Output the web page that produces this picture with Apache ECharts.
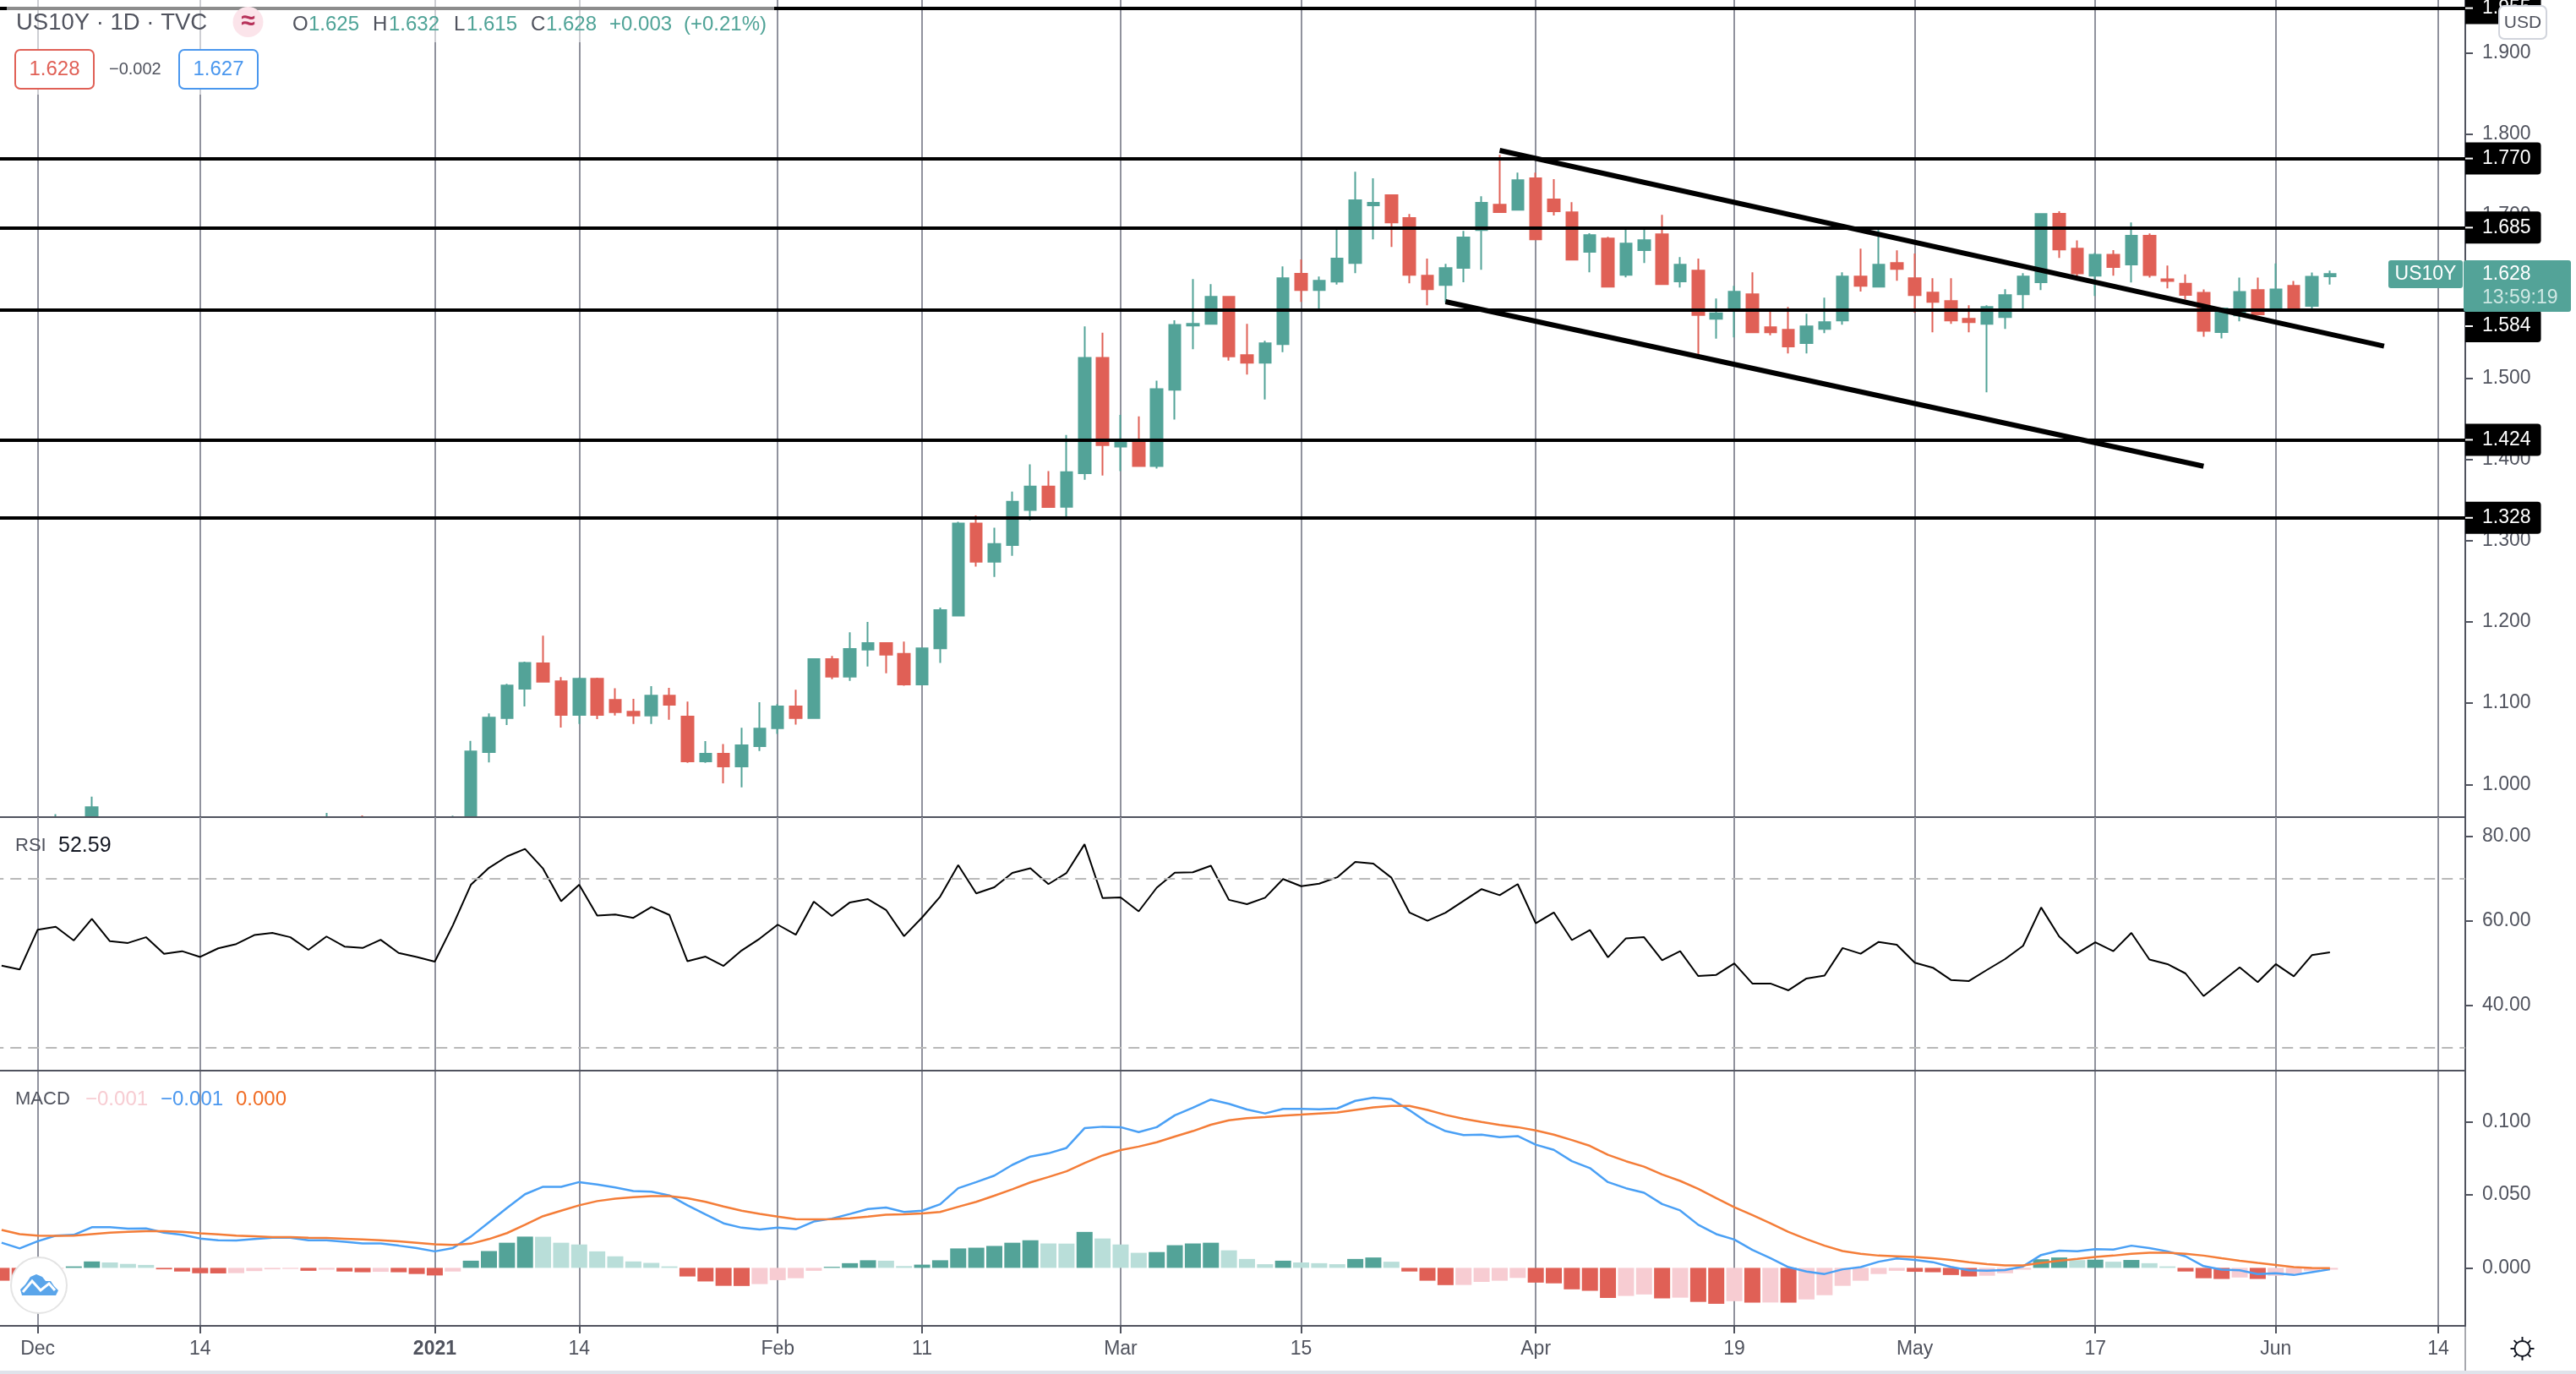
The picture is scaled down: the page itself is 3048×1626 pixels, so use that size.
<!DOCTYPE html>
<html>
<head>
<meta charset="utf-8">
<title>US10Y</title>
<script src="https://cdn.jsdelivr.net/npm/echarts@6/dist/echarts.min.js"></script>
<style>
  html, body { margin: 0; padding: 0; background: #fff; }
  #chart { width: 3048px; height: 1626px; }
</style>
</head>
<body>
<div id="chart"></div>
<script>
const dates = [
  '2020-11-27','2020-11-30','2020-12-01','2020-12-02','2020-12-03','2020-12-04','2020-12-07','2020-12-08','2020-12-09','2020-12-10',
  '2020-12-11','2020-12-14','2020-12-15','2020-12-16','2020-12-17','2020-12-18','2020-12-21','2020-12-22','2020-12-23','2020-12-24',
  '2020-12-28','2020-12-29','2020-12-30','2020-12-31','2021-01-04','2021-01-05','2021-01-06','2021-01-07','2021-01-08','2021-01-11',
  '2021-01-12','2021-01-13','2021-01-14','2021-01-15','2021-01-19','2021-01-20','2021-01-21','2021-01-22','2021-01-25','2021-01-26',
  '2021-01-27','2021-01-28','2021-01-29','2021-02-01','2021-02-02','2021-02-03','2021-02-04','2021-02-05','2021-02-08','2021-02-09',
  '2021-02-10','2021-02-11','2021-02-12','2021-02-16','2021-02-17','2021-02-18','2021-02-19','2021-02-22','2021-02-23','2021-02-24',
  '2021-02-25','2021-02-26','2021-03-01','2021-03-02','2021-03-03','2021-03-04','2021-03-05','2021-03-08','2021-03-09','2021-03-10',
  '2021-03-11','2021-03-12','2021-03-15','2021-03-16','2021-03-17','2021-03-18','2021-03-19','2021-03-22','2021-03-23','2021-03-24',
  '2021-03-25','2021-03-26','2021-03-29','2021-03-30','2021-03-31','2021-04-01','2021-04-05','2021-04-06','2021-04-07','2021-04-08',
  '2021-04-09','2021-04-12','2021-04-13','2021-04-14','2021-04-15','2021-04-16','2021-04-19','2021-04-20','2021-04-21','2021-04-22',
  '2021-04-23','2021-04-26','2021-04-27','2021-04-28','2021-04-29','2021-04-30','2021-05-03','2021-05-04','2021-05-05','2021-05-06',
  '2021-05-07','2021-05-10','2021-05-11','2021-05-12','2021-05-13','2021-05-14','2021-05-17','2021-05-18','2021-05-19','2021-05-20',
  '2021-05-21','2021-05-24','2021-05-25','2021-05-26','2021-05-27','2021-05-28','2021-06-01','2021-06-02','2021-06-03','2021-06-04',
  '2021-06-07','2021-06-08','2021-06-09','2021-06-10','2021-06-11','2021-06-14','2021-06-15'
];

const tickDates = ['2020-12-01','2020-12-14','2021-01-04','2021-01-14','2021-02-01','2021-02-11','2021-03-01','2021-03-15','2021-04-01','2021-04-19','2021-05-03','2021-05-17','2021-06-01','2021-06-14'];
const tickLabels = ['Dec','14','2021','14','Feb','11','Mar','15','Apr','19','May','17','Jun','14'];

// open, close, low, high
const candles = [
  [0.88,0.84,0.83,0.89],[0.84,0.845,0.82,0.86],[0.85,0.925,0.845,0.945],[0.925,0.94,0.915,0.9635],[0.94,0.91,0.895,0.945],
  [0.912,0.972,0.905,0.985],[0.95,0.92,0.91,0.955],[0.92,0.915,0.90,0.935],[0.915,0.94,0.91,0.955],[0.94,0.91,0.89,0.945],
  [0.91,0.90,0.88,0.92],[0.90,0.89,0.87,0.915],[0.89,0.92,0.885,0.93],[0.92,0.925,0.905,0.94],[0.925,0.93,0.915,0.945],
  [0.93,0.948,0.925,0.955],[0.948,0.935,0.89,0.955],[0.935,0.92,0.91,0.945],[0.92,0.95,0.915,0.965],[0.95,0.935,0.925,0.955],
  [0.935,0.93,0.92,0.962],[0.93,0.94,0.92,0.955],[0.94,0.93,0.92,0.955],[0.93,0.92,0.91,0.945],[0.92,0.91,0.895,0.94],
  [0.91,0.955,0.905,0.9615],[0.955,1.0407,0.95,1.0537],[1.0399,1.0821,1.0270,1.0873],[1.0817,1.1218,1.0731,1.1239],[1.1179,1.1494,1.0959,1.1511],
  [1.1489,1.1265,1.1265,1.1830],[1.1270,1.0856,1.0701,1.1321],[1.0856,1.1300,1.0744,1.1317],[1.1300,1.0856,1.0804,1.1313],[1.1041,1.0890,1.0847,1.1183],
  [1.0895,1.0847,1.0744,1.1054],[1.0847,1.1093,1.0744,1.1209],[1.1093,1.0981,1.0795,1.1188],[1.0834,1.0283,1.0265,1.1020],[1.0283,1.0377,1.0265,1.0533],
  [1.0377,1.0222,1.0015,1.0498],[1.0222,1.0481,0.9964,1.0696],[1.0472,1.0688,1.0412,1.1011],[1.0692,1.0959,1.0623,1.0989],[1.0959,1.0817,1.0735,1.1166],
  [1.0817,1.1541,1.0817,1.1541],[1.1541,1.1326,1.1296,1.1580],[1.1326,1.1666,1.1274,1.1873],[1.1658,1.1740,1.1451,1.1998],[1.1740,1.1597,1.1369,1.1740],
  [1.1606,1.1231,1.1214,1.1757],[1.1231,1.1675,1.1231,1.1675],[1.1675,1.2145,1.1494,1.2175],[1.2076,1.3209,1.2076,1.3231],[1.3209,1.2739,1.2679,1.3308],
  [1.2739,1.2959,1.2554,1.3158],[1.2946,1.3477,1.2813,1.3602],[1.3377,1.3666,1.3248,1.3938],[1.3666,1.3412,1.3408,1.3856],[1.3416,1.3843,1.3283,1.4300],
  [1.3830,1.5248,1.3748,1.5636],[1.5248,1.4175,1.3800,1.5558],[1.4157,1.4222,1.3856,1.4545],[1.4222,1.3916,1.3916,1.4528],[1.3916,1.4864,1.3886,1.4968],
  [1.4856,1.5653,1.4489,1.5709],[1.5645,1.5665,1.5354,1.6216],[1.5665,1.6000,1.5665,1.6154],[1.6000,1.5267,1.5215,1.6000],[1.5281,1.5187,1.5042,1.5665],
  [1.5187,1.5426,1.4737,1.5458],[1.5416,1.6227,1.5319,1.6372],[1.6282,1.6081,1.5936,1.6459],[1.6081,1.6196,1.5839,1.6248],[1.6185,1.6469,1.6150,1.6839],
  [1.6414,1.7187,1.6289,1.7537],[1.7124,1.7155,1.6705,1.7457],[1.7249,1.6913,1.6611,1.7249],[1.6968,1.6268,1.6164,1.7017],[1.6258,1.6092,1.5894,1.6469],
  [1.6144,1.6352,1.5925,1.6404],[1.6355,1.6729,1.6178,1.6809],[1.6819,1.7155,1.6331,1.7235],[1.7131,1.7041,1.7041,1.7745],[1.7069,1.7433,1.7069,1.7526],
  [1.7457,1.6705,1.6705,1.7526],[1.7197,1.7051,1.6999,1.7446],[1.7038,1.6455,1.6455,1.7162],[1.6553,1.6757,1.6300,1.6781],[1.6715,1.6123,1.6123,1.6736],
  [1.6268,1.6653,1.6237,1.6843],[1.6573,1.6695,1.6414,1.6840],[1.6767,1.6154,1.6154,1.7006],[1.6189,1.6393,1.6112,1.6487],[1.6320,1.5776,1.5284,1.6469],
  [1.5728,1.5797,1.5485,1.5977],[1.5838,1.6060,1.5499,1.6133],[1.6029,1.5562,1.5562,1.6300],[1.5624,1.5562,1.5527,1.5821],[1.5593,1.5388,1.5302,1.5873],
  [1.5430,1.5634,1.5302,1.5790],[1.5603,1.5686,1.5551,1.5988],[1.5707,1.6248,1.5655,1.6300],[1.6248,1.6133,1.6064,1.6591],[1.6123,1.6393,1.6123,1.6843],
  [1.6414,1.6341,1.6196,1.6570],[1.6227,1.6019,1.5804,1.6532],[1.6050,1.5936,1.5562,1.6227],[1.5946,1.5707,1.5665,1.6227],[1.5728,1.5686,1.5562,1.5894],
  [1.5665,1.5873,1.4824,1.5894],[1.5749,1.6019,1.5603,1.6092],[1.6029,1.6248,1.5839,1.6289],[1.6178,1.7017,1.6081,1.7017],[1.7021,1.6581,1.6478,1.7051],
  [1.6590,1.6288,1.6245,1.6693],[1.6258,1.6516,1.6008,1.6540],[1.6516,1.6366,1.6258,1.6572],[1.6396,1.6749,1.6176,1.6913],[1.6749,1.6266,1.6236,1.6779],
  [1.6215,1.6193,1.6103,1.6383],[1.6159,1.6021,1.5965,1.6275],[1.6047,1.5581,1.5508,1.6090],[1.5564,1.5857,1.5486,1.5857],[1.5771,1.6059,1.5697,1.6236],
  [1.6081,1.5784,1.5784,1.6236],[1.5835,1.6090,1.5835,1.6409],[1.6133,1.5857,1.5835,1.6193],[1.5887,1.6245,1.5848,1.6297],[1.625,1.628,1.615,1.632]
];

const rsiValues = [
  49.47,48.53,57.96,58.64,55.41,60.51,55.24,54.82,56.18,52.27,52.87,51.51,53.55,54.56,56.69,57.20,56.18,53.21,56.35,53.97,
  53.63,55.58,52.44,51.51,50.40,58.98,68.58,72.58,75.30,77.08,72.41,64.68,68.58,61.28,61.53,60.77,63.32,61.45,50.49,51.59,
  49.38,53.04,55.84,59.15,56.77,64.59,61.19,64.42,65.18,62.64,56.43,60.85,65.78,73.26,66.54,67.99,71.39,72.49,68.75,71.39,
  78.18,65.44,65.61,62.30,67.90,71.47,71.56,73.09,65.02,64.00,65.53,69.94,68.24,68.84,70.37,74.02,73.60,70.28,62.04,60.09,
  61.96,64.76,67.56,66.12,68.75,59.49,62.04,55.50,57.88,51.42,55.92,56.18,50.74,52.87,47.00,47.26,49.98,45.22,45.22,43.61,
  46.41,47.09,53.63,52.27,55.07,54.40,50.15,48.96,46.07,45.81,48.45,51.00,54.14,63.23,56.35,52.36,54.99,52.87,57.20,50.91,
  49.81,47.60,42.25,45.64,49.04,45.56,49.81,46.92,51.93,52.59
];

const macdHist = [
  -0.0088,-0.0090,-0.0045,-0.0005,0.0010,0.0044,0.0037,0.0027,0.0020,-0.0010,-0.0025,-0.0037,-0.0038,-0.0036,-0.0022,-0.0010,-0.0007,-0.0020,-0.0012,-0.0025,
  -0.0030,-0.0027,-0.0030,-0.0042,-0.0052,-0.0025,0.0049,0.0115,0.0172,0.0214,0.0213,0.0172,0.0160,0.0113,0.0079,0.0044,0.0034,0.0010,-0.0059,-0.0093,
  -0.0123,-0.0124,-0.0111,-0.0084,-0.0071,-0.0020,0.0007,0.0032,0.0052,0.0049,0.0012,0.0022,0.0052,0.0133,0.0138,0.0150,0.0172,0.0189,0.0167,0.0166,
  0.0246,0.0201,0.0160,0.0103,0.0108,0.0155,0.0167,0.0172,0.0120,0.0061,0.0025,0.0049,0.0037,0.0032,0.0025,0.0061,0.0071,0.0042,-0.0025,-0.0088,
  -0.0118,-0.0117,-0.0096,-0.0088,-0.0069,-0.0101,-0.0106,-0.0147,-0.0157,-0.0206,-0.0192,-0.0182,-0.0209,-0.0204,-0.0233,-0.0246,-0.0228,-0.0238,-0.0237,-0.0238,
  -0.0216,-0.0187,-0.0123,-0.0088,-0.0042,-0.0020,-0.0027,-0.0030,-0.0049,-0.0059,-0.0054,-0.0037,-0.0012,0.0059,0.0071,0.0053,0.0056,0.0042,0.0054,0.0032,
  0.0010,-0.0025,-0.0071,-0.0076,-0.0066,-0.0076,-0.0054,-0.0042,-0.0020,-0.0012
];

const macdLine = [
  0.0172,0.0133,0.0182,0.0221,0.0226,0.0278,0.0278,0.0268,0.0270,0.0241,0.0226,0.0201,0.0189,0.0187,0.0197,0.0206,0.0206,0.0189,0.0189,0.0179,
  0.0167,0.0167,0.0152,0.0135,0.0113,0.0135,0.0214,0.0312,0.0410,0.0504,0.0555,0.0555,0.0587,0.0570,0.0550,0.0526,0.0521,0.0496,0.0428,0.0366,
  0.0305,0.0275,0.0263,0.0275,0.0265,0.0317,0.0337,0.0369,0.0403,0.0413,0.0383,0.0391,0.0435,0.0545,0.0587,0.0631,0.0705,0.0762,0.0784,0.0821,
  0.0956,0.0966,0.0963,0.0929,0.0963,0.1044,0.1096,0.1152,0.1123,0.1084,0.1057,0.1088,0.1088,0.1086,0.1091,0.1143,0.1165,0.1155,0.1079,0.0995,
  0.0936,0.0909,0.0912,0.0894,0.0902,0.0843,0.0808,0.0730,0.0683,0.0587,0.0545,0.0514,0.0437,0.0393,0.0295,0.0231,0.0194,0.0123,0.0066,0.0005,
  -0.0025,-0.0042,-0.0010,0.0005,0.0042,0.0064,0.0054,0.0039,0.0007,-0.0017,-0.0020,-0.0015,0.0010,0.0088,0.0118,0.0113,0.0128,0.0125,0.0152,0.0135,
  0.0113,0.0079,0.0012,-0.0012,-0.0017,-0.0042,-0.0037,-0.0049,-0.0029,-0.0010
];

const signalLine = [
  0.0260,0.0231,0.0221,0.0219,0.0221,0.0231,0.0241,0.0246,0.0251,0.0251,0.0246,0.0236,0.0229,0.0221,0.0216,0.0211,0.0211,0.0206,0.0204,0.0199,
  0.0194,0.0189,0.0182,0.0172,0.0162,0.0157,0.0165,0.0197,0.0238,0.0295,0.0354,0.0391,0.0428,0.0457,0.0474,0.0484,0.0491,0.0491,0.0477,0.0452,
  0.0420,0.0391,0.0369,0.0351,0.0334,0.0332,0.0334,0.0339,0.0351,0.0364,0.0366,0.0373,0.0383,0.0418,0.0452,0.0494,0.0538,0.0585,0.0622,0.0661,
  0.0717,0.0769,0.0806,0.0830,0.0860,0.0899,0.0936,0.0980,0.1010,0.1025,0.1032,0.1042,0.1049,0.1057,0.1064,0.1081,0.1098,0.1108,0.1108,0.1081,
  0.1047,0.1020,0.0998,0.0978,0.0963,0.0941,0.0912,0.0875,0.0835,0.0774,0.0730,0.0693,0.0639,0.0595,0.0541,0.0477,0.0415,0.0361,0.0305,0.0246,
  0.0197,0.0152,0.0115,0.0096,0.0084,0.0079,0.0074,0.0066,0.0054,0.0039,0.0025,0.0017,0.0017,0.0034,0.0049,0.0061,0.0074,0.0084,0.0096,0.0103,
  0.0103,0.0096,0.0084,0.0066,0.0049,0.0034,0.0020,0.0005,0,-0.0002
];

const priceLevels = [1.955, 1.770, 1.685, 1.584, 1.424, 1.328];
const upperTrend = [['2021-03-30', 1.780], ['2021-06-09', 1.5392]];
const lowerTrend = [['2021-03-25', 1.5939], ['2021-05-25', 1.3914]];

const priceTicks = [1.0, 1.1, 1.2, 1.3, 1.4, 1.5, 1.6, 1.7, 1.8, 1.9];
const rsiTicks = [40, 60, 80];
const rsiBands = [70, 30];
const macdTicks = [0, 0.05, 0.1];

const UP = '#53a398';
const DOWN = '#e06056';
const UP_LIGHT = '#b9ded9';
const DOWN_LIGHT = '#f7ccd2';
const AXIS = '#50535e';
const GRID = '#90929d';
const FONT = '"Liberation Sans", Arial, sans-serif';

// the 1.584 tag is pushed down so it clears the last price tag
const tagShift = (v) => (v === 1.584 ? 19.5 : 0);

const chart = echarts.init(document.getElementById('chart'));

// panes share one time axis, the left edge sits off canvas so the first bar is cut
function timeAxis(gridIndex, withLabels, z) {
  return {
    type: 'category',
    gridIndex: gridIndex,
    data: dates,
    boundaryGap: true,
    z: z,
    axisLine: { onZero: false, lineStyle: { color: AXIS, width: 2 } },
    axisTick: {
      show: withLabels,
      alignWithLabel: true,
      length: 9,
      interval: (i, v) => tickDates.includes(v),
      lineStyle: { color: AXIS, width: 2 }
    },
    axisLabel: {
      show: withLabels,
      interval: (i, v) => tickDates.includes(v),
      margin: 16,
      color: AXIS,
      fontFamily: FONT,
      fontSize: 23,
      formatter: (v) => {
        const text = tickLabels[tickDates.indexOf(v)];
        return text === '2021' ? '{y|2021}' : text;
      },
      rich: { y: { fontWeight: 'bold', fontFamily: FONT, fontSize: 23, color: AXIS } }
    },
    splitLine: {
      show: true,
      alignWithLabel: true,
      interval: (i, v) => tickDates.includes(v),
      lineStyle: { color: GRID, width: 2 }
    }
  };
}

function valueAxis(gridIndex, min, max, ticks, digits, z) {
  return {
    type: 'value',
    gridIndex: gridIndex,
    position: 'right',
    min: min,
    max: max,
    scale: true,
    z: z,
    axisLine: { show: true, onZero: false, lineStyle: { color: AXIS, width: 2 } },
    axisTick: { show: true, length: 9, customValues: ticks, lineStyle: { color: AXIS, width: 2 } },
    axisLabel: {
      margin: 20,
      customValues: ticks,
      color: AXIS,
      fontFamily: FONT,
      fontSize: 23,
      showMinLabel: true,
      showMaxLabel: true,
      formatter: (v) => v.toFixed(digits)
    },
    splitLine: { show: true, lineStyle: { color: '#ffffff', width: 2 } }
  };
}

function histColor(i) {
  const v = macdHist[i];
  const prev = i > 0 ? macdHist[i - 1] : 0;
  if (v >= 0) return v > prev ? UP : UP_LIGHT;
  return v < prev ? DOWN : DOWN_LIGHT;
}

chart.setOption({
  animation: false,
  backgroundColor: '#ffffff',
  grid: [
    { left: -8.78, right: 131, top: 0, height: 967, outerBoundsMode: 'none' },
    { left: -8.78, right: 131, top: 967, height: 300, outerBoundsMode: 'none' },
    { left: -8.78, right: 131, top: 1267, height: 302, outerBoundsMode: 'none' }
  ],
  xAxis: [timeAxis(0, false, 0), timeAxis(1, false, 2), timeAxis(2, true, 2)],
  yAxis: [
    valueAxis(0, 0.9598, 1.965, priceTicks, 3, 0),
    valueAxis(1, 24.6, 84.6, rsiTicks, 2, 2),
    valueAxis(2, -0.03968, 0.13499, macdTicks, 3, 2)
  ],
  series: [
    {
      name: 'US10Y',
      type: 'candlestick',
      xAxisIndex: 0,
      yAxisIndex: 0,
      data: candles,
      barWidth: 14,
      clip: true,
      z: 1,
      itemStyle: { color: UP, color0: DOWN, borderColor: UP, borderColor0: DOWN, borderWidth: 2 },
      markLine: {
        silent: true,
        symbol: 'none',
        animation: false,
        precision: 3,
        z: 5,
        lineStyle: { color: '#000000', width: 4, type: 'solid' },
        label: {
          position: 'end',
          distance: 0,
          color: '#ffffff',
          backgroundColor: '#000000',
          fontFamily: FONT,
          fontSize: 23,
          padding: [8, 12, 7, 20],
          borderRadius: [0, 4, 4, 0],
          formatter: (p) => p.value.toFixed(3)
        },
        data: priceLevels.map((v) => ({ yAxis: v, label: { offset: [0, tagShift(v)] } }))
      }
    },
    {
      name: 'Upper trend',
      type: 'line',
      xAxisIndex: 0,
      yAxisIndex: 0,
      data: upperTrend,
      symbol: 'none',
      z: 5,
      lineStyle: { color: '#000000', width: 6, cap: 'butt' }
    },
    {
      name: 'Lower trend',
      type: 'line',
      xAxisIndex: 0,
      yAxisIndex: 0,
      data: lowerTrend,
      symbol: 'none',
      z: 5,
      lineStyle: { color: '#000000', width: 6, cap: 'butt' }
    },
    {
      name: 'RSI',
      type: 'line',
      xAxisIndex: 1,
      yAxisIndex: 1,
      data: rsiValues,
      symbol: 'none',
      z: 3,
      lineStyle: { color: '#000000', width: 2 },
      markLine: {
        silent: true,
        symbol: 'none',
        animation: false,
        label: { show: false },
        lineStyle: { color: '#b9b9b9', width: 2, type: [13, 8] },
        data: rsiBands.map((v) => ({ yAxis: v }))
      }
    },
    {
      name: 'Histogram',
      type: 'bar',
      xAxisIndex: 2,
      yAxisIndex: 2,
      barWidth: 19,
      z: 3,
      data: macdHist.map((v, i) => ({ value: v, itemStyle: { color: histColor(i) } }))
    },
    {
      name: 'MACD',
      type: 'line',
      xAxisIndex: 2,
      yAxisIndex: 2,
      data: macdLine,
      symbol: 'none',
      z: 4,
      lineStyle: { color: '#4aa0f5', width: 2.5 }
    },
    {
      name: 'Signal',
      type: 'line',
      xAxisIndex: 2,
      yAxisIndex: 2,
      data: signalLine,
      symbol: 'none',
      z: 4,
      lineStyle: { color: '#f47d38', width: 2.5 }
    }
  ]
});

function label(text, x, y, fill, size, align, weight) {
  return {
    type: 'text',
    z: 60,
    style: {
      text: text,
      x: x,
      y: y,
      fill: fill,
      font: (weight || 'normal') + ' ' + size + 'px ' + FONT,
      textAlign: align || 'left',
      textVerticalAlign: 'middle'
    }
  };
}

function box(x, y, w, h, fill, stroke, r, opacity) {
  return {
    type: 'rect',
    z: 55,
    shape: { x: x, y: y, width: w, height: h, r: r || 0 },
    style: { fill: fill, stroke: stroke || null, lineWidth: stroke ? 2 : 0, opacity: opacity === undefined ? 1 : opacity }
  };
}

const GREEN_TEXT = '#4fa397';

const overlay = [
  // the low candles run past the price pane, the indicator panes sit on top of them
  { type: 'rect', z: 1.5, shape: { x: 0, y: 966, width: 2916, height: 300 }, style: { fill: '#ffffff' } },
  { type: 'line', z: 1.6, shape: { x1: 0, y1: 967, x2: 2917, y2: 967 }, style: { stroke: AXIS, lineWidth: 2 } },

  // translucent legend backdrops
  box(8, 0, 908, 50, '#ffffff', null, 0, 0.55),
  box(8, 50, 304, 62, '#ffffff', null, 0, 0.55),
  label('US10Y · 1D · TVC', 19, 27, AXIS, 27.5),
  { type: 'circle', z: 56, shape: { cx: 293.5, cy: 26, r: 18 }, style: { fill: '#fbe4ea' } },
  label('≈', 293.5, 26, '#b7325a', 30, 'center', 'bold'),
  label('O', 346, 29, AXIS, 24), label('1.625', 365, 29, GREEN_TEXT, 24),
  label('H', 441, 29, AXIS, 24), label('1.632', 460, 29, GREEN_TEXT, 24),
  label('L', 537, 29, AXIS, 24), label('1.615', 552, 29, GREEN_TEXT, 24),
  label('C', 628, 29, AXIS, 24), label('1.628', 646, 29, GREEN_TEXT, 24),
  label('+0.003', 721, 29, GREEN_TEXT, 24), label('(+0.21%)', 809, 29, GREEN_TEXT, 24),
  box(18, 59, 93, 46, '#ffffff', '#e06056', 6),
  label('1.628', 64.5, 82, '#e06056', 24, 'center'),
  label('−0.002', 129, 82, AXIS, 20),
  box(212, 59, 93, 46, '#ffffff', '#4a97ee', 6),
  label('1.627', 258.5, 82, '#4a97ee', 24, 'center'),

  // scale mode badge and last price tags
  box(2957, 7, 56, 39, '#ffffff', '#d1d4dc', 6),
  label('USD', 2985, 27, AXIS, 21, 'center'),
  box(2826, 308, 88, 33, UP, null, 3),
  label('US10Y', 2870, 325, '#ffffff', 23, 'center'),
  box(2915, 308, 127, 61, UP, null, 3),
  label('1.628', 2937, 325, '#ffffff', 23),
  label('13:59:19', 2937, 353, '#cfe8e4', 23),

  // pane captions
  label('RSI', 18, 1001, AXIS, 22), label('52.59', 69, 1001, '#131722', 25),
  label('MACD', 18, 1301, AXIS, 22),
  label('−0.001', 101, 1301, DOWN_LIGHT, 24),
  label('−0.001', 190, 1301, '#4a97ee', 24),
  label('0.000', 279, 1301, '#f06d25', 24),

  // logo badge
  { type: 'circle', z: 56, shape: { cx: 46, cy: 1521, r: 33 }, style: { fill: '#ffffff', stroke: '#e4e4e4', lineWidth: 2 } },
  {
    type: 'polygon',
    z: 57,
    shape: { points: [[26, 1533], [24, 1526], [30, 1520], [36, 1511], [43, 1508], [50, 1511], [54, 1516], [60, 1516], [64, 1522], [69, 1527], [66, 1533]] },
    style: { fill: '#5aa5ea' }
  },
  {
    type: 'polyline',
    z: 58,
    shape: { points: [[27, 1529], [38, 1516], [48, 1527], [58, 1519], [65, 1527]] },
    style: { fill: null, stroke: '#ffffff', lineWidth: 3 }
  },

  // settings icon
  { type: 'circle', z: 56, shape: { cx: 2984.5, cy: 1596, r: 9 }, style: { fill: null, stroke: '#131722', lineWidth: 2 } },

  // axis foot and page edge
  { type: 'line', z: 40, shape: { x1: 2917, y1: 1569, x2: 2917, y2: 1622 }, style: { stroke: AXIS, lineWidth: 1 } },
  { type: 'rect', z: 40, shape: { x: 0, y: 1622, width: 3048, height: 4 }, style: { fill: '#e0e3eb' } }
];

// settings icon rays
for (let k = 0; k < 8; k++) {
  const a = k * Math.PI / 4;
  overlay.push({
    type: 'line',
    z: 56,
    shape: {
      x1: 2984.5 + 9 * Math.cos(a), y1: 1596 + 9 * Math.sin(a),
      x2: 2984.5 + 14 * Math.cos(a), y2: 1596 + 14 * Math.sin(a)
    },
    style: { stroke: '#131722', lineWidth: 2 }
  });
}

// white tick marks inside the black level tags, placed through the price scale
const axisRight = 2917;
priceLevels.forEach((v) => {
  const y = chart.convertToPixel({ yAxisIndex: 0 }, v) + tagShift(v);
  overlay.push({
    type: 'line',
    z: 50,
    shape: { x1: axisRight, y1: y, x2: axisRight + 9, y2: y },
    style: { stroke: '#ffffff', lineWidth: 2 }
  });
});

chart.setOption({ graphic: { elements: overlay } });
</script>
</body>
</html>
